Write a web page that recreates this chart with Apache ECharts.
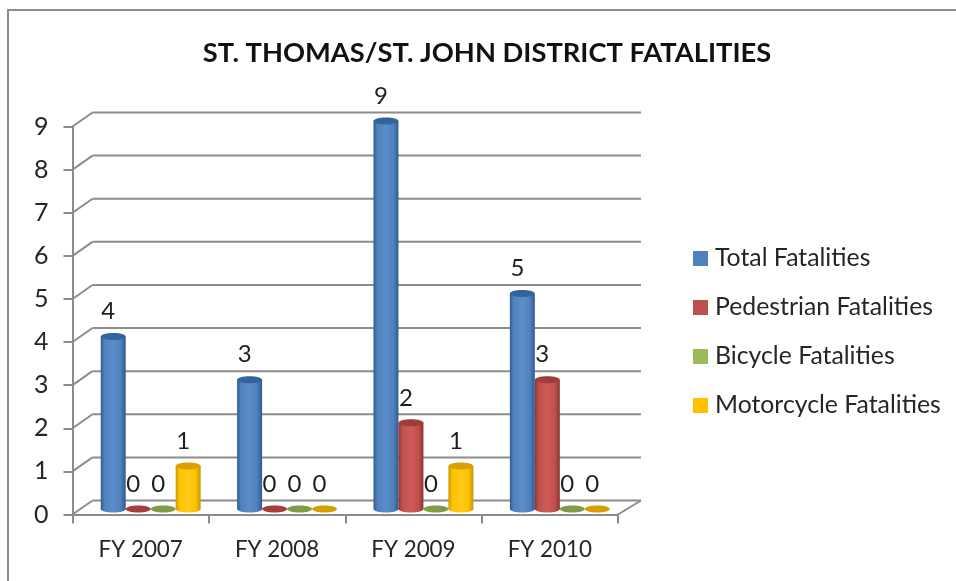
<!DOCTYPE html>
<html><head><meta charset="utf-8">
<style>html,body{margin:0;padding:0;background:#fff}#c{width:956px;height:581px}</style>
<script src="https://cdn.jsdelivr.net/npm/echarts@6/dist/echarts.min.js"></script>
</head><body><div id="c"></div>
<script>
const categories = ['FY 2007','FY 2008','FY 2009','FY 2010'];
const tickValues = [0,1,2,3,4,5,6,7,8,9];
const totalFatalities = [4,3,9,5];
const pedestrianFatalities = [0,0,2,3];
const bicycleFatalities = [0,0,0,0];
const motorcycleFatalities = [1,0,1,0];
const seriesNames = ['Total Fatalities','Pedestrian Fatalities','Bicycle Fatalities','Motorcycle Fatalities'];
const font = 'Lato';
const gridColor = '#8c8c8c';
const palette = [
  {base:'#4f81bd', dark:'#2f5b90', mid:'#5a8dc9', cap:'#34649c', flat:'#4f81bd'},
  {base:'#c0504d', dark:'#8c3331', mid:'#cf5b58', cap:'#a03d3a', flat:'#a53e3c'},
  {base:'#9bbb59', dark:'#6f8c3a', mid:'#a9ca62', cap:'#7d9c42', flat:'#7f9c47'},
  {base:'#ffc000', dark:'#c99700', mid:'#ffcc1a', cap:'#d9a200', flat:'#d4a000'}
];
const depthX = 20, depthY = 14;

function wallItem(params, api){
  const v = api.value(0);
  const band = api.size([1,0])[0];
  const first = api.coord([0, v]);
  const last = api.coord([categories.length-1, v]);
  const lx = first[0]-band/2, rx = last[0]+band/2, y = first[1];
  const stroke = {stroke:gridColor,lineWidth:2};
  const children = [
    {type:'line', shape:{x1:lx,y1:y,x2:lx+depthX,y2:y-depthY}, style:stroke},
    {type:'line', shape:{x1:lx+depthX,y1:y-depthY,x2:rx+depthX+3,y2:y-depthY}, style:stroke}
  ];
  if (v === 0) children.push({type:'line', shape:{x1:rx,y1:y,x2:rx+depthX+3,y2:y-depthY}, style:stroke});
  return {type:'group', children};
}

function cylinderRenderer(idx){
  return function(params, api){
    const cat = api.value(0), val = api.value(1);
    const band = api.size([1,0])[0];
    const w = band*25/136.5;
    const cx = api.coord([cat,0])[0] + 10 + (idx-1.5)*w;
    const baseY = api.coord([cat,0])[1] - 5.5;
    const topY = api.coord([cat,val])[1] - 5.5;
    const c = palette[idx];
    const children = [];
    if (val > 0) {
      const fill = {type:'linear',x:0,y:0,x2:1,y2:0,colorStops:[
        {offset:0,color:c.dark},{offset:0.15,color:c.base},{offset:0.5,color:c.mid},{offset:0.8,color:c.base},{offset:1,color:c.dark}]};
      children.push({type:'ellipse',shape:{cx,cy:baseY,rx:w/2,ry:3.5},style:{fill}});
      children.push({type:'rect',shape:{x:cx-w/2,y:topY,width:w,height:baseY-topY},style:{fill}});
      children.push({type:'ellipse',shape:{cx,cy:topY,rx:w/2,ry:3.5},style:{fill:c.cap}});
    } else {
      children.push({type:'ellipse',shape:{cx,cy:baseY,rx:w/2,ry:3.5},style:{fill:c.flat}});
    }
    children.push({type:'text',z2:50,style:{text:String(val),x:cx-5,y:topY-25,align:'center',verticalAlign:'middle',font:'24px '+font,fill:'#1f1f1f'}});
    return {type:'group',children};
  };
}
function cylinderSeries(idx, values){
  return {type:'custom',name:seriesNames[idx],coordinateSystem:'cartesian2d',z:3+idx,
    itemStyle:{color:palette[idx].base},
    renderItem:cylinderRenderer(idx),
    encode:{x:0,y:1},
    data:values.map((v,i)=>[i,v])};
}
const chart = echarts.init(document.getElementById('c'),null,{renderer:'canvas'});
chart.setOption({
  animation:false,
  backgroundColor:'#fff',
  title:{text:'ST. THOMAS/ST. JOHN DISTRICT FATALITIES',left:482,top:35,textAlign:'center',
    textStyle:{fontFamily:font,fontWeight:'bold',fontSize:27.3,color:'#111'}},
  legend:{data:seriesNames,orient:'vertical',left:693,top:246,padding:0,itemWidth:15,itemHeight:15,itemGap:24,icon:'rect',
    textStyle:{fontFamily:font,fontSize:24.8,color:'#262626',padding:[0,0,0,2]}},
  grid:{left:72.5,right:338,top:126.5,bottom:66.5,containLabel:false},
  xAxis:{type:'category',data:categories,boundaryGap:true,
    axisLine:{lineStyle:{color:gridColor,width:2}},
    axisTick:{show:true,length:9,lineStyle:{color:gridColor,width:2},alignWithLabel:false},
    axisLabel:{fontFamily:font,fontSize:22.4,color:'#262626',margin:24},
    splitLine:{show:false}},
  yAxis:{type:'value',min:0,max:9,interval:1,
    axisLine:{show:true,lineStyle:{color:gridColor,width:2}},
    axisTick:{show:true,length:9,lineStyle:{color:gridColor,width:2}},
    axisLabel:{fontFamily:font,fontSize:25,color:'#262626',margin:24,padding:[4,0,0,0]},
    splitLine:{show:false}},
  series:[
    {type:'custom',name:'walls',silent:true,z:1,renderItem:wallItem,encode:{y:0},data:tickValues.map(v=>[v])},
    cylinderSeries(0,totalFatalities),
    cylinderSeries(1,pedestrianFatalities),
    cylinderSeries(2,bicycleFatalities),
    cylinderSeries(3,motorcycleFatalities)
  ],
  graphic:[{type:'polyline',silent:true,shape:{points:[[8,581],[8,10],[956,10]]},style:{stroke:'#8c8c8c',lineWidth:2,fill:null}}]
});
</script></body></html>
